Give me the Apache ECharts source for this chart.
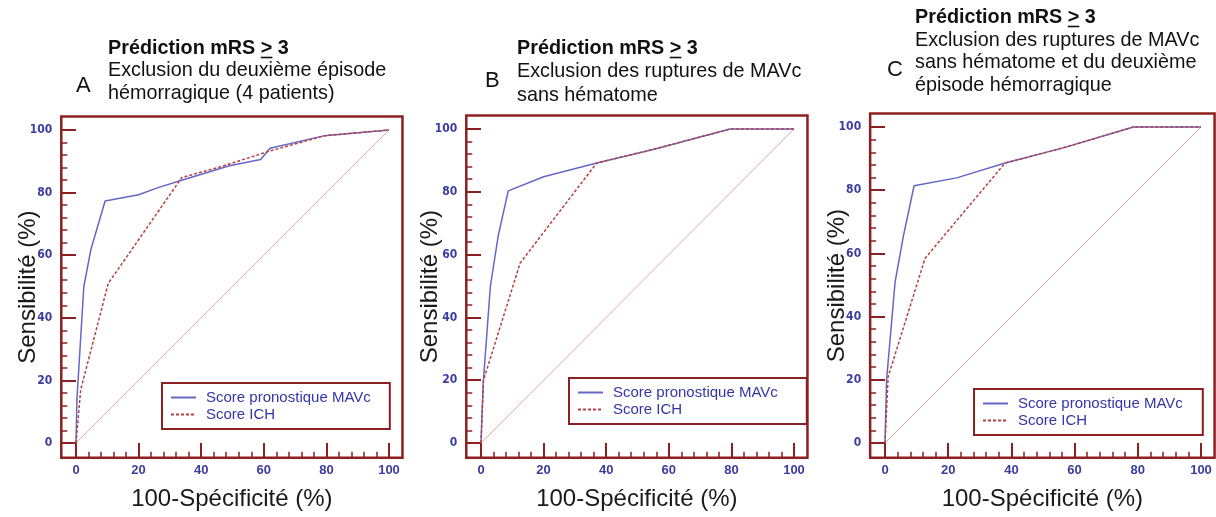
<!DOCTYPE html>
<html><head><meta charset="utf-8">
<script src="https://cdn.jsdelivr.net/npm/echarts@6/dist/echarts.min.js"></script>
<style>html,body{margin:0;padding:0;background:#fff}#c{width:1216px;height:517px}</style>
</head><body><div id="c"></div>
<script>
// ---------- data ----------
const xTicks = [0, 20, 40, 60, 80, 100];
const yTicks = [0, 20, 40, 60, 80, 100];
const minorTicks = [4, 8, 12, 16, 24, 28, 32, 36, 44, 48, 52, 56, 64, 68, 72, 76, 84, 88, 92, 96];
const seriesNames = ['Score pronostique MAVc', 'Score ICH'];
const xAxisTitle = '100-Spécificité (%)';
const yAxisTitle = 'Sensibilité (%)';
const titleBoldPrefix = 'Prédiction mRS ';
const titleBoldSign = '>';
const titleBoldSuffix = ' 3';
const panelLetters = ['A', 'B', 'C'];
const subtitleA = ['Exclusion du deuxième épisode', 'hémorragique (4 patients)'];
const subtitleB = ['Exclusion des ruptures de MAVc', 'sans hématome'];
const subtitleC = ['Exclusion des ruptures de MAVc', 'sans hématome et du deuxième', 'épisode hémorragique'];
const diagonal = [[0, 0], [100, 100]];
const mavcA = [[0,0],[0.3,14],[2.5,50],[4.8,62],[9.3,77.3],[20,79.3],[26,81.5],[34,84],[49,88.6],[59,90.6],[62,94.2],[79.5,98.2],[100,100]];
const ichA  = [[0,0],[1.5,17],[10.3,51],[33.8,84.8],[46,88.2],[62,93.3],[79.5,98.2],[100,100]];
const mavcB = [[0,0],[0.7,19],[3,50],[5.5,66],[8.7,80.3],[20,84.8],[37,89.2],[55,93.5],[79.6,100],[100,100]];
const ichB  = [[0,0],[0.8,20],[12.5,57.3],[37,89.2],[55,93.5],[79.6,100],[100,100]];
const mavcC = [[0,0],[0.5,20],[3.2,51],[5.8,65.4],[9.2,81.4],[22.7,83.9],[38,88.6],[56.4,93.4],[78.6,100],[100,100]];
const ichC  = [[0,0],[1,21],[12.7,58.5],[38,88.6],[56.4,93.4],[78.6,100],[100,100]];

// ---------- style / layout ----------
const FONT = '"Liberation Sans", Arial, sans-serif';
const NARROW = '"Liberation Sans Narrow", "DejaVu Sans Condensed", "Liberation Sans", sans-serif';
const FRAME = '#8c1f1f';
const LBL = '#3b3ba0';
const BLUE = '#6666c8';
const RED = '#b84040';
const DIAG = '#e2a9a9';
const AX_MIN = -4.7, AX_MAX = 104.3;
// x0/y0: pixel of data origin; sx/sy: pixels per unit
const panels = [
  {x0:76,  y0:443, sx:3.13, sy:3.13, yGap:21, lg:{left:162, top:383, pr:19}, letter:{x:76,  y:85.5}, tx:108, ty:[48.5,70.5,93.5], data:[mavcA, ichA], sub:subtitleA},
  {x0:481, y0:443, sx:3.13, sy:3.14, yGap:24, lg:{left:569, top:378, pr:29}, letter:{x:485, y:81},   tx:517, ty:[48.5,71.2,95.2], data:[mavcB, ichB], sub:subtitleB},
  {x0:885, y0:443, sx:3.16, sy:3.16, yGap:21, lg:{left:974, top:389, pr:20}, letter:{x:887, y:70},   tx:915, ty:[17.5,40.2,62.8,85.2], data:[mavcC, ichC], sub:subtitleC}
];

const grid = [], xAxis = [], yAxis = [], series = [], legend = [], graphic = [];
const measure = document.createElement('canvas').getContext('2d');
const TITLE_SIZE = 19.8;

panels.forEach((p, i) => {
  const rect = {
    left: p.x0 + AX_MIN * p.sx,
    width: (AX_MAX - AX_MIN) * p.sx,
    top: p.y0 - AX_MAX * p.sy,
    height: (AX_MAX - AX_MIN) * p.sy
  };
  const tickX = -AX_MIN * p.sy; // x-axis major tick: frame bottom up to y=0
  const tickY = -AX_MIN * p.sx; // y-axis major tick: frame left to x=0
  grid.push(Object.assign({show:true, borderColor:FRAME, borderWidth:2.5, backgroundColor:'transparent'}, rect));
  grid.push(Object.assign({show:false}, rect));
  const gMain = 2*i, gMinor = 2*i+1;
  xAxis.push({
    gridIndex:gMain, type:'value', position:'bottom', min:AX_MIN, max:AX_MAX,
    axisLine:{show:false, onZero:false},
    axisTick:{show:true, inside:true, length:tickX, customValues:xTicks, lineStyle:{color:FRAME, width:2}},
    axisLabel:{show:true, customValues:xTicks, color:LBL, fontSize:13, fontWeight:'bold', fontFamily:FONT, margin:6},
    splitLine:{show:false},
    name:xAxisTitle, nameLocation:'middle', nameGap:30, nameMoveOverlap:false,
    nameTextStyle:{fontSize:24, color:'#1a1a1a', fontFamily:FONT}
  });
  yAxis.push({
    gridIndex:gMain, type:'value', position:'left', min:AX_MIN, max:AX_MAX,
    axisLine:{show:false, onZero:false},
    axisTick:{show:true, inside:true, length:tickY, customValues:yTicks, lineStyle:{color:FRAME, width:2}},
    axisLabel:{show:true, customValues:yTicks, color:LBL, fontSize:12, fontWeight:'bold', fontFamily:NARROW, margin:9},
    splitLine:{show:false},
    name:yAxisTitle, nameLocation:'middle', nameGap:p.yGap, nameMoveOverlap:false,
    nameTextStyle:{fontSize:24, color:'#1a1a1a', fontFamily:FONT}
  });
  xAxis.push({
    gridIndex:gMinor, type:'value', position:'bottom', min:AX_MIN, max:AX_MAX,
    axisLine:{show:false, onZero:false}, axisLabel:{show:false}, splitLine:{show:false},
    axisTick:{show:true, inside:true, length:6, customValues:minorTicks, lineStyle:{color:FRAME, width:1.5}}
  });
  yAxis.push({
    gridIndex:gMinor, type:'value', position:'left', min:AX_MIN, max:AX_MAX,
    axisLine:{show:false, onZero:false}, axisLabel:{show:false}, splitLine:{show:false},
    axisTick:{show:true, inside:true, length:6, customValues:minorTicks, lineStyle:{color:FRAME, width:1.5}}
  });
  const ai = 2*i;
  series.push({type:'line', name:'diagonale', xAxisIndex:ai, yAxisIndex:ai, data:diagonal, symbol:'none', silent:true, z:1,
    lineStyle:{color:DIAG, width:1}, itemStyle:{color:DIAG}});
  series.push({type:'line', name:seriesNames[0], xAxisIndex:ai, yAxisIndex:ai, data:p.data[0], symbol:'none', z:3,
    lineStyle:{color:BLUE, width:1.5}, itemStyle:{color:BLUE}});
  series.push({type:'line', name:seriesNames[1], xAxisIndex:ai, yAxisIndex:ai, data:p.data[1], symbol:'none', z:4,
    lineStyle:{color:RED, width:1.5, type:[3,2]}, itemStyle:{color:RED}});
  legend.push({
    data:seriesNames, orient:'vertical', left:p.lg.left, top:p.lg.top, itemWidth:25, itemHeight:15, itemGap:2,
    padding:[7, p.lg.pr, 7, 8], borderColor:FRAME, borderWidth:2, backgroundColor:'#fff', selectedMode:false,
    itemStyle:{color:'rgba(0,0,0,0)', borderColor:'rgba(0,0,0,0)', borderWidth:0},
    textStyle:{color:'#3535a5', fontSize:15, fontFamily:FONT, padding:[0,0,0,5]}
  });
  // titles
  const boldFont = 'bold ' + TITLE_SIZE + 'px ' + FONT;
  const regFont = TITLE_SIZE + 'px ' + FONT;
  const boldText = titleBoldPrefix + titleBoldSign + titleBoldSuffix;
  graphic.push({type:'text', x:p.tx, y:p.ty[0], style:{text:boldText, font:boldFont, fill:'#111', verticalAlign:'middle'}});
  measure.font = boldFont;
  const w1 = measure.measureText(titleBoldPrefix).width;
  const w2 = measure.measureText(titleBoldSign).width;
  const uy = p.ty[0] + 9;
  graphic.push({type:'line', shape:{x1:p.tx+w1, y1:uy, x2:p.tx+w1+w2, y2:uy}, style:{stroke:'#111', lineWidth:1.6}});
  p.sub.forEach((line, k) => {
    graphic.push({type:'text', x:p.tx, y:p.ty[k+1], style:{text:line, font:regFont, fill:'#111', verticalAlign:'middle'}});
  });
  graphic.push({type:'text', x:p.letter.x, y:p.letter.y, style:{text:panelLetters[i], font:'22px ' + FONT, fill:'#111', verticalAlign:'middle'}});
});

const chart = echarts.init(document.getElementById('c'), null, {renderer:'canvas'});
chart.setOption({
  animation:false,
  backgroundColor:'#fff',
  grid, xAxis, yAxis, series, legend, graphic
});
</script>
</body></html>
